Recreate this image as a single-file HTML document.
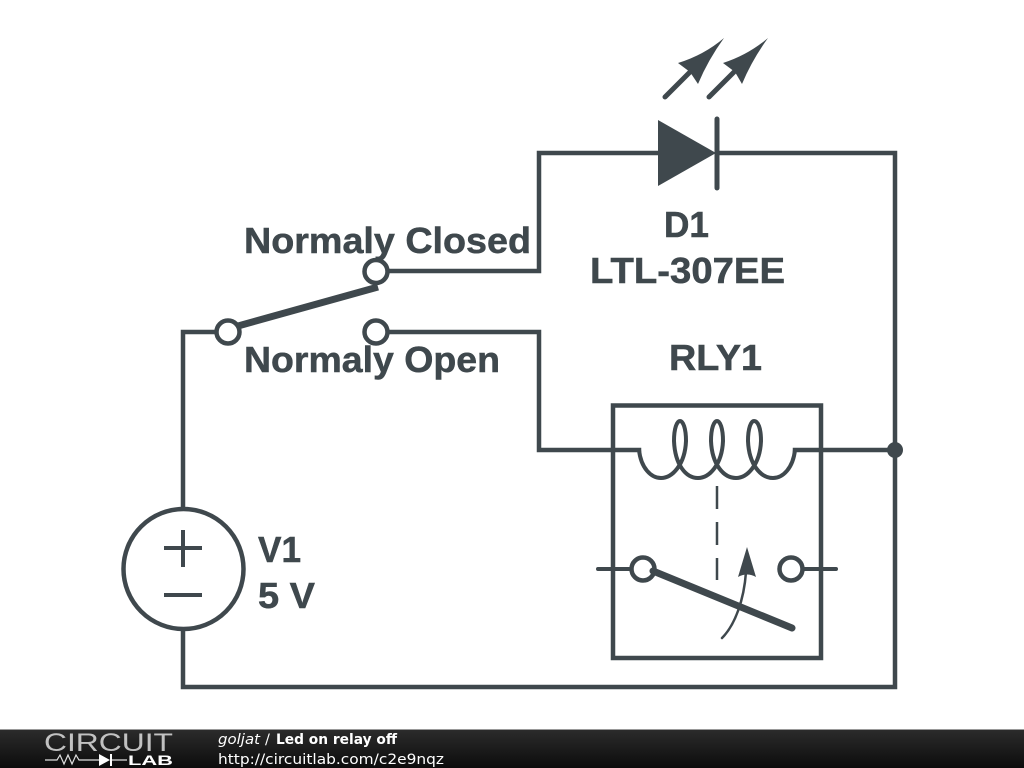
<!DOCTYPE html>
<html><head><meta charset="utf-8"><style>
html,body{margin:0;padding:0;background:#fff;width:1024px;height:768px;overflow:hidden}
svg{display:block}
</style></head><body>
<svg width="1024" height="768" viewBox="0 0 1024 768" xmlns="http://www.w3.org/2000/svg">
<defs><linearGradient id="g" x1="0" y1="0" x2="0" y2="1"><stop offset="0" stop-color="#2c2c2c"/><stop offset="1" stop-color="#0c0c0c"/></linearGradient></defs>
<rect width="1024" height="768" fill="#fff"/>
<g fill="none" stroke="#3f484d" stroke-width="4.500" stroke-linecap="square" stroke-linejoin="miter">
<path d="M183 508V332H216"/>
<path d="M183 630V687H895V153H718"/>
<path d="M388 271H539V153H660"/>
<path d="M388 332H539V450H639"/>
<path d="M795 450H895"/>
<rect x="613" y="405.500" width="208" height="252.500"/>
<circle cx="183.500" cy="569" r="60"/>
<path d="M164 548H202M183 530V567M164 595H202" stroke-width="4" stroke-linecap="butt"/>
<circle cx="228" cy="332" r="11.500"/>
<circle cx="376" cy="271.500" r="11.500"/>
<circle cx="376" cy="332" r="11.500"/>
<path d="M238 326L378 287" stroke-width="7" stroke-linecap="butt"/>
<path d="M639 450C641 468 651 478 661 478C672 478 685 465 686 441C686 428 683 421 680 421C677 421 674 428 674 441C675 465 686 478 698 478C709 478 722 465 723 441C723 428 720 421 717 421C714 421 711 428 711 441C712 465 724 478 736 478C747 478 760 465 761 441C761 428 758 421 754 421C751 421 748 428 748 441C749 465 761 478 773 478C783 478 793 468 795 450" stroke-width="4" stroke-linecap="butt"/>
<path d="M598 569H631M803 569H836" stroke-width="4" stroke-linecap="round"/>
<circle cx="643" cy="569" r="11.500"/>
<circle cx="791" cy="569" r="11.500"/>
<path d="M653 571L792 628" stroke-width="7" stroke-linecap="round"/>
<path d="M717 486V580" stroke-width="2.500" stroke-dasharray="23 13" stroke-linecap="butt"/>
<path d="M722 638C735 625 744 600 746 572" stroke-width="2.500" stroke-linecap="round"/>
<path d="M717 119V188" stroke-width="5" stroke-linecap="round"/>
<path d="M665 97L692 70M709 97L736 70" stroke-width="5" stroke-linecap="round"/>
</g>
<g fill="#3f484d">
<path d="M658 120L716 153L658 186Z"/>
<path d="M724 38Q708 60 698 84L690 72L678 63Q704 55 724 38Z"/>
<path d="M768 38Q752 60 742 84L735 72L723 63Q748 55 768 38Z"/>
<path d="M747 547L756 577Q747 572 738 577Z"/>
<circle cx="895" cy="450" r="8"/>
</g>
<g font-family="'Liberation Sans',sans-serif" font-weight="700" font-size="36" fill="#3f484d" stroke="#3f484d" stroke-width=".5">
<text x="244" y="253" textLength="287" lengthAdjust="spacingAndGlyphs">Normaly Closed</text>
<text x="244" y="372" textLength="256" lengthAdjust="spacingAndGlyphs">Normaly Open</text>
<text x="664" y="237" textLength="45" lengthAdjust="spacingAndGlyphs">D1</text>
<text x="590" y="283" textLength="195" lengthAdjust="spacingAndGlyphs">LTL-307EE</text>
<text x="669" y="370" textLength="93" lengthAdjust="spacingAndGlyphs">RLY1</text>
<text x="258" y="562" textLength="43" lengthAdjust="spacingAndGlyphs">V1</text>
<text x="258" y="608" textLength="57" lengthAdjust="spacingAndGlyphs">5 V</text>
</g>
<rect y="729" width="1024" height="39" fill="url(#g)"/>
<rect y="729" width="1024" height="1" fill="#999"/>
<text x="44" y="751" font-family="'Liberation Sans',sans-serif" font-size="25" fill="#fff" fill-opacity=".72" textLength="129" lengthAdjust="spacingAndGlyphs">CIRCUIT</text>
<path d="M45 760H57L60 755L64 764L68 755L72 764L76 755L79 760H99M111 760H127" fill="none" stroke="#e0e0e0" stroke-width="1.200"/>
<path d="M99 754L110 760L99 766ZM110 754H112V766H110Z" fill="#fff"/>
<text x="128" y="765" font-family="'Liberation Sans',sans-serif" font-weight="700" font-size="14" fill="#fff" textLength="45" lengthAdjust="spacingAndGlyphs">LAB</text>
<g font-family="'DejaVu Sans',sans-serif" font-size="14.500" fill="#fff">
<text x="218" y="744" font-style="italic" textLength="42" lengthAdjust="spacingAndGlyphs">goljat</text>
<text x="265" y="744">/</text>
<text x="276" y="744" font-weight="700" textLength="121" lengthAdjust="spacingAndGlyphs">Led on relay off</text>
<text x="218" y="764" textLength="226" lengthAdjust="spacingAndGlyphs">http://circuitlab.com/c2e9nqz</text>
</g>
</svg>
</body></html>
